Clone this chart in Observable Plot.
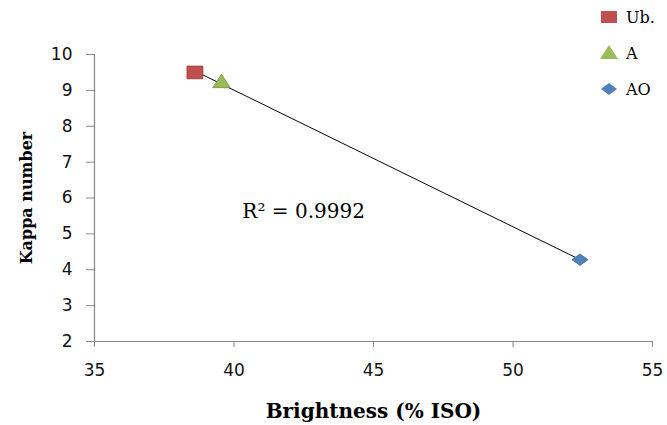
<!DOCTYPE html>
<html><head><meta charset="utf-8">
<script src="https://cdn.jsdelivr.net/npm/d3@7"></script>
<script src="https://cdn.jsdelivr.net/npm/@observablehq/plot@0.6"></script>
<style>
body{margin:0;background:#fff;}
#wrap{position:relative;width:667px;height:425px;}
#legend{position:absolute;left:599px;top:-1px;font-family:"DejaVu Serif",serif;font-size:16px;color:#000;}
#legend .row{display:flex;align-items:center;height:36px;}
#legend svg{margin-right:7px;}
</style></head><body><div id="wrap"><div id="legend"></div></div>
<script>
const samples = ["Ub.", "A", "AO"];
const brightness = [38.6, 39.55, 52.4];
const kappa = [9.5, 9.22, 4.28];
const colors = ["#C0504D", "#9BBB59", "#4F81BD"];
const strokes = ["#8C3836", "#71893F", "#385D8A"];
const xTicks = [35, 40, 45, 50, 55];
const yTicks = [2, 3, 4, 5, 6, 7, 8, 9, 10];
const r2Label = ["R² = 0.9992"];
const r2Pos = {x: 40.3, y: 5.62};

const table = samples.map((s, i) => ({sample: s, x: brightness[i], y: kappa[i]}));

const rectSym = {draw(c, size){ const r = Math.sqrt(size/Math.PI); const w = r, h = r*0.8; c.rect(-w, -h, 2*w, 2*h); }};
const triSym = {draw(c, size){ const r = Math.sqrt(size/Math.PI); const w = r*1.1, h = r*1.7; c.moveTo(0, -h*0.62); c.lineTo(w, h*0.38); c.lineTo(-w, h*0.38); c.closePath(); }};
const diaSym = {draw(c, size){ const r = Math.sqrt(size/Math.PI); const w = r, h = r*0.72; c.moveTo(0, -h); c.lineTo(w, 0); c.lineTo(0, h); c.lineTo(-w, 0); c.closePath(); }};
const syms = [rectSym, triSym, diaSym];

const marks = [
  Plot.axisY({ticks: yTicks, tickSize: 8, stroke: "#888", tickFormat: () => "", label: null}),
  Plot.axisX({ticks: xTicks, tickSize: 6, stroke: "#888", tickFormat: () => "", label: null}),
  Plot.ruleX([35], {stroke: "#888", strokeWidth: 1.2}),
  Plot.ruleY([2], {stroke: "#888", strokeWidth: 1.2}),
  Plot.text(yTicks, {y: d => d, text: d => String(d), frameAnchor: "left", dx: -22, textAnchor: "end", fontSize: 17, fontFamily: "DejaVu Sans", fill: "#111"}),
  Plot.text(xTicks, {x: d => d, text: d => String(d), frameAnchor: "bottom", dy: 34, fontSize: 17, fontFamily: "DejaVu Sans", fill: "#111"}),
  Plot.linearRegressionY(table, {x: "x", y: "y", ci: 0, stroke: "#000", strokeWidth: 1}),
  Plot.text(r2Label, {x: r2Pos.x, y: r2Pos.y, text: d => d, textAnchor: "start", fontSize: 20, fontFamily: "DejaVu Serif", fill: "#000"})
];
samples.forEach((s, i) => {
  marks.push(Plot.dot(table.filter(d => d.sample === s), {x: "x", y: "y", symbol: syms[i], r: 8, fill: colors[i], stroke: strokes[i], strokeWidth: 0.7}));
});

const chart = Plot.plot({
  width: 667, height: 425,
  marginLeft: 94, marginRight: 15, marginTop: 54, marginBottom: 84,
  style: {fontFamily: "DejaVu Sans", background: "#fff"},
  x: {domain: [35, 55], label: null},
  y: {domain: [2, 10], label: null},
  marks: [
    ...marks,
    Plot.axisX({ticks: [], label: "Brightness (% ISO)", labelArrow: "none", labelAnchor: "center", labelOffset: 76, fontSize: 20, fontWeight: "bold", fontFamily: "DejaVu Serif", fill: "#000"}),
    Plot.axisY({ticks: [], label: "Kappa number", labelArrow: "none", labelAnchor: "center", labelOffset: 74, fontSize: 16, fontWeight: "bold", fontFamily: "DejaVu Serif", fill: "#000"})
  ]
});
document.getElementById("wrap").prepend(chart);

// legend
const leg = document.getElementById("legend");
const shapes = [
  c => `<rect x="2" y="4" width="16" height="12" fill="${c}"/>`,
  c => `<polygon points="10,2 19,16 1,16" fill="${c}"/>`,
  c => `<polygon points="10,4 18,10 10,16 2,10" fill="${c}"/>`
];
samples.forEach((s, i) => {
  const row = document.createElement("div");
  row.className = "row";
  row.innerHTML = `<svg width="20" height="20">${shapes[i](colors[i])}</svg><span>${s}</span>`;
  leg.appendChild(row);
});
</script></body></html>
